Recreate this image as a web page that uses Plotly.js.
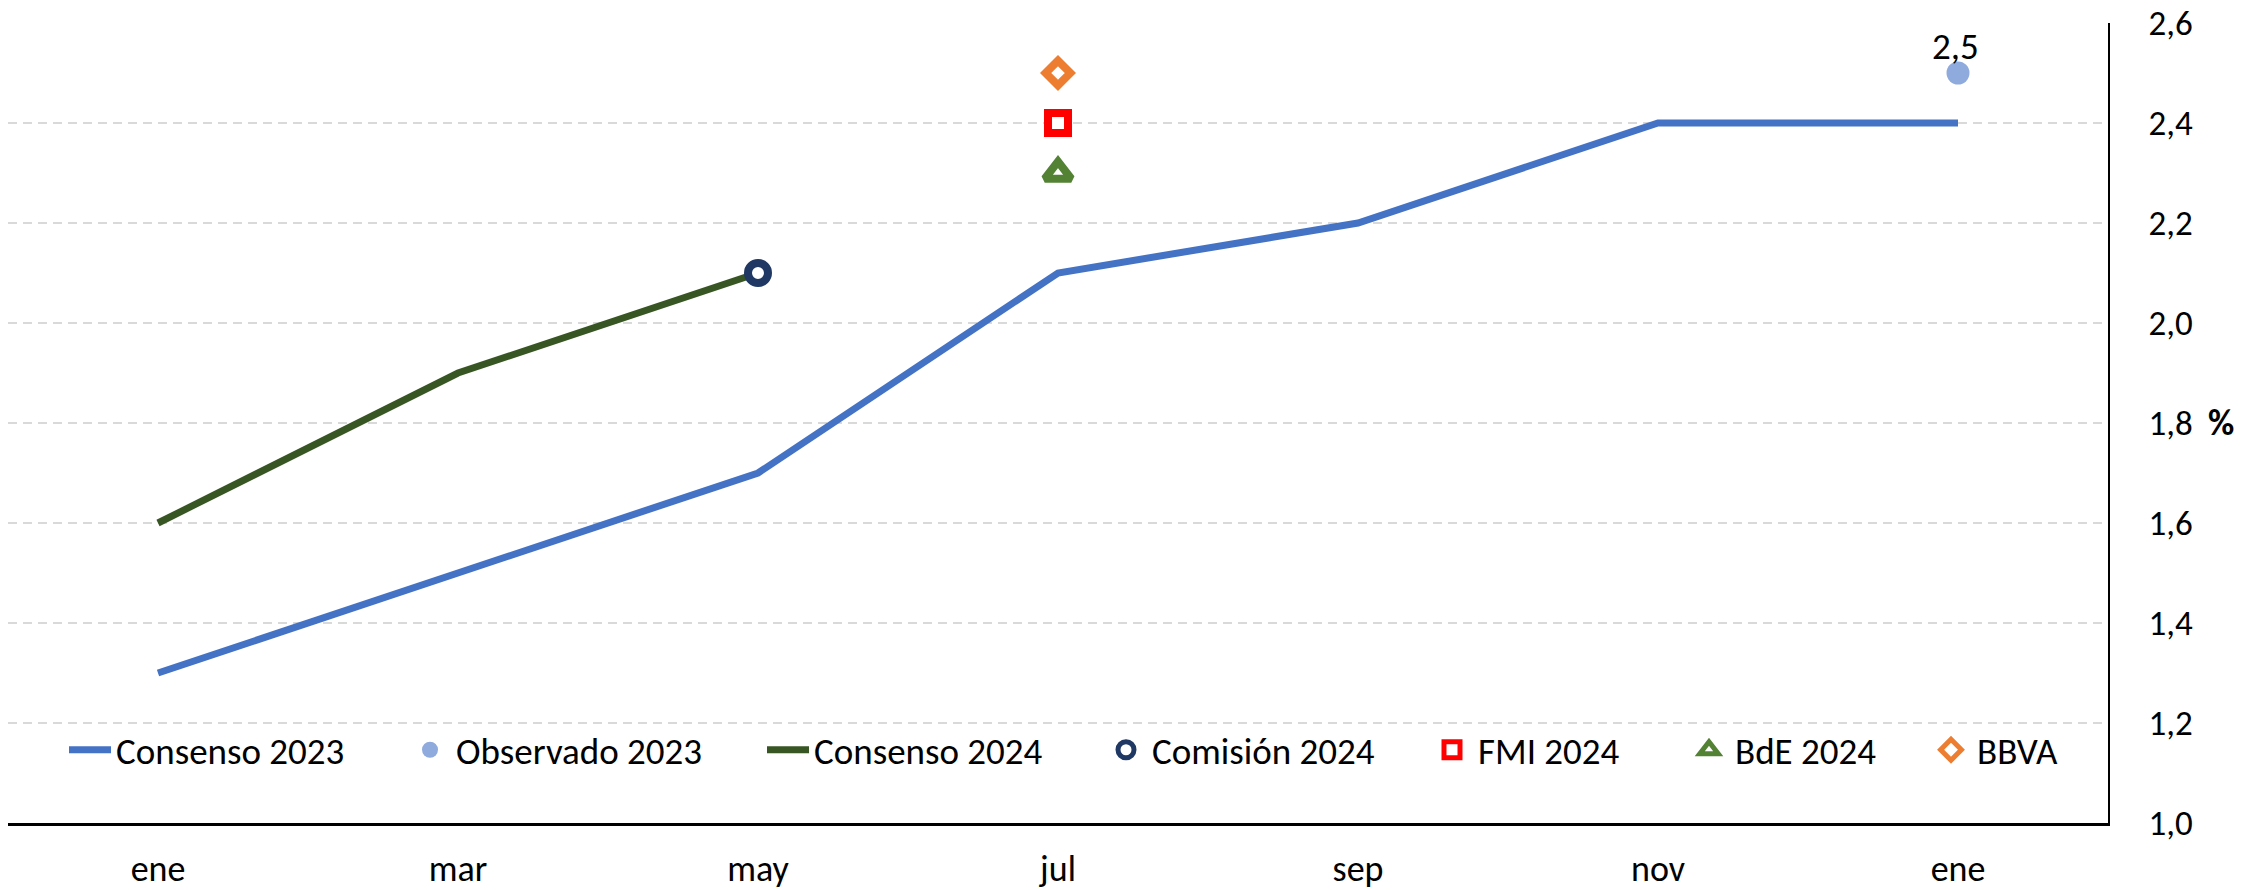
<!DOCTYPE html>
<html>
<head>
<meta charset="utf-8">
<script src="https://cdn.plot.ly/plotly-3.0.1.min.js"></script>
<style>
  html, body { margin: 0; padding: 0; background: #ffffff; }
  #chart { width: 2256px; height: 890px; }
</style>
</head>
<body>
<div id="chart"></div>
<script>
// ---- Data ----
const monthLabels   = ['ene', 'mar', 'may', 'jul', 'sep', 'nov', 'ene'];
const consenso2023  = [1.3, 1.5, 1.7, 2.1, 2.2, 2.4, 2.4];
const observado2023 = [null, null, null, null, null, null, 2.5];
const consenso2024  = [1.6, 1.9, 2.1, null, null, null, null];
const comision2024  = [null, null, 2.1, null, null, null, null];
const fmi2024       = [null, null, null, 2.4, null, null, null];
const bde2024       = [null, null, null, 2.3, null, null, null];
const bbva          = [null, null, null, 2.5, null, null, null];
const yTicks        = [1.0, 1.2, 1.4, 1.6, 1.8, 2.0, 2.2, 2.4, 2.6];

const xIdx = monthLabels.map((_, i) => i);
const FONT = 'Carlito, Lato, "Open Sans", sans-serif';
const FS = 36;

const traces = [
  { name: 'Consenso 2023', legend: 'legend', x: xIdx, y: consenso2023, type: 'scatter', mode: 'lines',
    line: { color: '#4472C4', width: 7 } },
  { name: 'Observado 2023', legend: 'legend2', x: xIdx, y: observado2023, type: 'scatter', mode: 'markers',
    marker: { color: '#8FAADC', size: 23, symbol: 'circle' } },
  { name: 'Consenso 2024', legend: 'legend3', x: xIdx, y: consenso2024, type: 'scatter', mode: 'lines',
    line: { color: '#375623', width: 7 } },
  { name: 'Comisión 2024', legend: 'legend4', x: xIdx, y: comision2024, type: 'scatter', mode: 'markers',
    marker: { color: '#ffffff', size: 20, symbol: 'circle', line: { color: '#1F3864', width: 8 } } },
  { name: 'FMI 2024', legend: 'legend5', x: xIdx, y: fmi2024, type: 'scatter', mode: 'markers',
    marker: { color: '#ffffff', size: 20, symbol: 'square', line: { color: '#FF0000', width: 8 } } },
  { name: 'BdE 2024', legend: 'legend6', x: xIdx, y: bde2024, type: 'scatter', mode: 'markers',
    marker: { color: '#ffffff', size: 23, symbol: 'triangle-up', line: { color: '#548235', width: 8 } } },
  { name: 'BBVA', legend: 'legend7', x: xIdx, y: bbva, type: 'scatter', mode: 'markers',
    marker: { color: '#ffffff', size: 19, symbol: 'diamond', line: { color: '#ED7D31', width: 8 } } }
];

// one legend box per entry, so each entry sits where the reference puts it
const legendLeftPx = [64, 404, 762, 1100, 1426, 1683, 1925];
const plotLeft = 8, plotWidth = 2100;
function legendBox(px) {
  return {
    orientation: 'h', x: (px - plotLeft) / plotWidth, xanchor: 'left', y: 0.091, yanchor: 'middle',
    bgcolor: 'rgba(0,0,0,0)', borderwidth: 0,
    font: { family: FONT, size: 37, color: '#000000' },
    itemwidth: 42
  };
}

// label of the observed value, taken from the data
const obsIdx = observado2023.findIndex(v => v !== null);
const obsLabel = observado2023[obsIdx].toFixed(1).replace('.', ',');

const layout = {
  width: 2256, height: 890,
  paper_bgcolor: '#ffffff', plot_bgcolor: '#ffffff',
  separators: ',.',
  margin: { l: 8, r: 148, t: 23, b: 67, pad: 0 },
  font: { family: FONT, size: FS, color: '#000000' },
  showlegend: true,
  legend: legendBox(legendLeftPx[0]),
  legend2: legendBox(legendLeftPx[1]),
  legend3: legendBox(legendLeftPx[2]),
  legend4: legendBox(legendLeftPx[3]),
  legend5: legendBox(legendLeftPx[4]),
  legend6: legendBox(legendLeftPx[5]),
  legend7: legendBox(legendLeftPx[6]),
  xaxis: {
    type: 'linear', range: [-0.5, 6.5],
    tickmode: 'array', tickvals: xIdx, ticktext: monthLabels,
    showgrid: false, zeroline: false,
    showline: true, linecolor: '#000000', linewidth: 2.5,
    ticks: '', ticklabelstandoff: 12,
    tickfont: { family: FONT, size: FS, color: '#000000' },
    fixedrange: true
  },
  yaxis: {
    side: 'right', range: [1.0, 2.6],
    tickmode: 'array', tickvals: yTicks, tickformat: '.1f',
    showgrid: true, gridcolor: '#D9D9D9', gridwidth: 2, griddash: '9px,6px',
    zeroline: false,
    showline: true, linecolor: '#000000', linewidth: 1.5,
    ticks: '', ticklabelstandoff: 32,
    tickfont: { family: FONT, size: 35, color: '#000000' },
    fixedrange: true
  },
  annotations: [
    { text: obsLabel, xref: 'x', yref: 'y', x: obsIdx, y: observado2023[obsIdx],
      xanchor: 'center', yanchor: 'middle', yshift: 27, xshift: -3, showarrow: false,
      font: { family: FONT, size: 37, color: '#000000' } },
    { text: '%', xref: 'paper', yref: 'y', x: 1, y: 1.8, xanchor: 'left', yanchor: 'middle',
      xshift: 98, showarrow: false, font: { family: FONT, size: FS, color: '#000000', weight: 'bold' } }
  ]
};

Plotly.newPlot('chart', traces, layout, { staticPlot: true, displayModeBar: false });
</script>
</body>
</html>
